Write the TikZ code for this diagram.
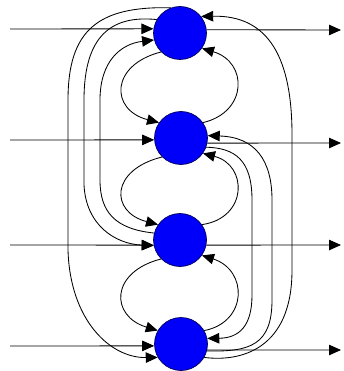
\documentclass[tikz,border=0pt]{standalone}
\usetikzlibrary{arrows.meta}
\begin{document}
\begin{tikzpicture}[x=1pt,y=-1pt,
  neuron/.style={circle,fill={rgb,255:red,0;green,0;blue,250},draw={rgb,255:red,0;green,0;blue,90},line width=0.7pt,minimum size=53pt,inner sep=0pt},
  link/.style={line width=0.85pt,black},
  arr/.style={link,-{Triangle[length=12pt,width=10.5pt]}}]
\path[fill=white] (0,0) rectangle (343,371);
\node[neuron] (n1) at (180,33) {};
\node[neuron] (n2) at (181,138) {};
\node[neuron] (n3) at (180,240) {};
\node[neuron] (n4) at (181,344) {};
\coordinate (i1) at (10,29);
\coordinate (i2) at (10,140);
\coordinate (i3) at (10,245);
\coordinate (i4) at (10,346);
\coordinate (o1) at (341,30);
\coordinate (o2) at (341,143);
\coordinate (o3) at (341,245);
\coordinate (o4) at (341,350);
% inputs and outputs
\draw[arr] (i1) -- (n1.171);
\draw[arr] (i2) -- (n2.184);
\draw[arr] (i3) -- (n3.191);
\draw[arr] (i4) -- (n4.184);
\draw[arr] (n1.7) -- (o1);
\draw[arr] (n2.349) -- (o2);
\draw[arr] (n3.349) -- (o3);
\draw[arr] (n4.347) -- (o4);
% left side long links
\draw[arr] (n1.110) .. controls (98,6) and (68,30) .. (68,100) -- (68,250) .. controls (70,320) and (110,358) .. (n4.210);
\draw[arr] (n1.150) .. controls (112,15) and (84,35) .. (84,100) -- (84,185) .. controls (86,225) and (115,244) .. (n3.192);
\draw[arr] (n3.165) .. controls (115,229) and (100,212) .. (100,180) -- (100,100) .. controls (100,62) and (120,44) .. (n1.195);
% adjacent left arcs
\draw[arr] (n1.225) .. controls (110,65) and (110,110) .. (n2.145);
\draw[arr] (n2.225) .. controls (110,170) and (110,212) .. (n3.145);
\draw[arr] (n3.225) .. controls (110,272) and (110,316) .. (n4.150);
% adjacent right arcs
\draw[arr] (n2.35) .. controls (248,112) and (248,62) .. (n1.325);
\draw[arr] (n3.35) .. controls (248,218) and (248,165) .. (n2.325);
\draw[arr] (n4.30) .. controls (248,322) and (248,270) .. (n3.325);
% right side long links
\draw[arr] (n4.330) .. controls (240,362) and (292,350) .. (292,270) -- (292,135) .. controls (292,60) and (270,15) .. (n1.38);
\draw[arr] (n4.345) .. controls (250,352) and (272,345) .. (272,300) -- (272,200) .. controls (272,160) and (255,137) .. (n2.5);
\draw[arr] (n2.340) .. controls (235,148) and (252,160) .. (252,200) -- (252,295) .. controls (252,325) and (240,338) .. (n4.12);
\end{tikzpicture}
\end{document}
